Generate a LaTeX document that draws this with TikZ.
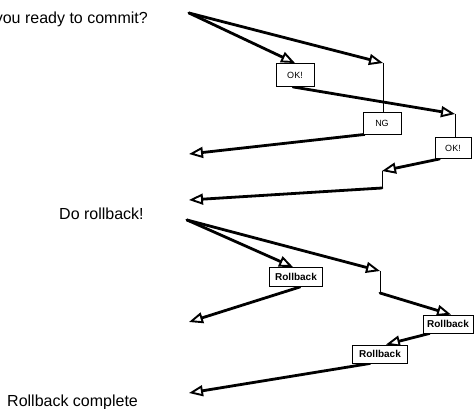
\documentclass[tikz,border=0pt]{standalone}
\usepackage{fontspec}
\setmainfont{Liberation Sans}
\usetikzlibrary{arrows.meta}
\begin{document}
\begin{tikzpicture}[x=1pt,y=-1pt,
  flow/.style={line width=2.8pt, line cap=round, -{Triangle[open,length=14pt,width=11pt,line width=1.9pt]}},
  joinline/.style={line width=0.9pt},
  box/.style={draw, line width=0.9pt, fill=white, inner sep=0pt, font=\fontsize{9}{9}\selectfont},
  rbox/.style={box, font=\fontsize{10}{10}\selectfont\bfseries},
  caption/.style={font=\fontsize{16}{16}\selectfont, inner sep=0pt}]
\useasboundingbox (0,0) rectangle (475,409);
\fill[white] (0,0) rectangle (475,409);

% captions
\node[caption, anchor=base east] (q) at (148,24) {you ready to commit?};
\node[caption, anchor=base west] (dr) at (59,220) {Do rollback!};
\node[caption, anchor=base west] (rc) at (7,407) {Rollback complete};

% boxes
\node[box, minimum width=38pt, minimum height=23pt] (ok1) at (295,75) {OK!};
\node[box, minimum width=38pt, minimum height=22pt] (ng) at (382,123) {NG};
\node[box, minimum width=36pt, minimum height=21pt] (ok2) at (453,148) {OK!};
\node[rbox, minimum width=53pt, minimum height=19pt] (rb1) at (296,277) {Rollback};
\node[rbox, minimum width=50pt, minimum height=18pt] (rb2) at (448,324) {Rollback};
\node[rbox, minimum width=55pt, minimum height=18pt] (rb3) at (380,354) {Rollback};

% free points
\coordinate (s1) at (189,13);
\coordinate (s2) at (187,220);
\coordinate (tB) at (383,63);
\coordinate (tC) at (455,114);
\coordinate (tD) at (189,154);
\coordinate (tE) at (382,171);
\coordinate (bE) at (382,188);
\coordinate (tE2) at (189,200);
\coordinate (tG) at (380,271);
\coordinate (bG) at (380,293);
\coordinate (tH) at (189,322);
\coordinate (tI) at (189,393);

% top part
\draw[flow] (s1) -- (ok1.north);
\draw[flow] (s1) -- (tB);
\draw[joinline] (tB) -- (tB |- ng.north);
\draw[flow] ([xshift=-2pt]ok1.south) -- (tC);
\draw[joinline] (tC) -- (tC |- ok2.north);
\draw[flow] ([xshift=2pt]ng.south west) -- (tD);
\draw[flow] ([xshift=5pt]ok2.south west) -- (tE);
\draw[joinline] (tE) -- (bE);
\draw[flow] (bE) -- (tE2);

% bottom part
\draw[flow] (s2) -- ([xshift=-3pt]rb1.north);
\draw[flow] (s2) -- (tG);
\draw[joinline] (tG) -- (bG);
\draw[flow] (bG) -- ([xshift=3pt]rb2.north);
\draw[flow] ([xshift=4pt]rb1.south) -- (tH);
\draw[flow] ([xshift=7pt]rb2.south west) -- ([xshift=6pt]rb3.north);
\draw[flow] ([xshift=-10pt]rb3.south) -- (tI);

% redraw boxes on top
\node[box, minimum width=38pt, minimum height=23pt] at (ok1) {OK!};
\node[box, minimum width=38pt, minimum height=22pt] at (ng) {NG};
\node[box, minimum width=36pt, minimum height=21pt] at (ok2) {OK!};
\node[rbox, minimum width=53pt, minimum height=19pt] at (rb1) {Rollback};
\node[rbox, minimum width=50pt, minimum height=18pt] at (rb2) {Rollback};
\node[rbox, minimum width=55pt, minimum height=18pt] at (rb3) {Rollback};
\end{tikzpicture}
\end{document}
